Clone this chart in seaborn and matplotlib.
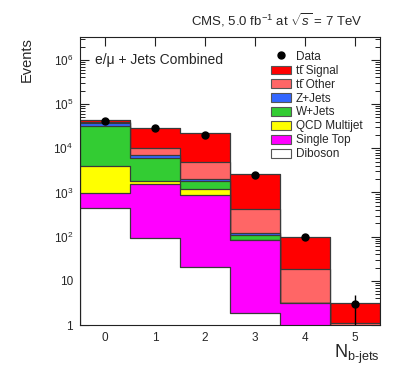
import numpy as np
import pandas as pd
import matplotlib
matplotlib.use("Agg")
import matplotlib.pyplot as plt
from matplotlib.patches import Patch, Rectangle
from matplotlib.lines import Line2D
from matplotlib.legend_handler import HandlerPatch
import seaborn as sns

# N b-jets bins and per-process event yields
nbjets = [0, 1, 2, 3, 4, 5]
processes = ["Diboson", "Single Top", "QCD Multijet", "W+Jets", "Z+Jets",
             "tt Other", "tt Signal"]
diboson = [439, 95, 20.9, 1.84, 0.3, 0.05]
single_top = [551, 1485, 856, 82, 2.9, 0.25]
qcd = [3050, 270, 323, 1.0, 0.0, 0.0]
wjets = [27160, 4290, 590, 23, 0.0, 0.0]
zjets = [5600, 920, 200, 12, 0.0, 0.0]
tt_other = [2000, 2940, 2830, 304, 15.6, 0.79]
tt_signal = [5000, 19300, 17080, 2157, 81.2, 2.11]
data_events = [41500, 28500, 19900, 2450, 98, 3]
data_err_lo = [204, 169, 141, 49, 9.9, 2.1]
data_err_hi = [204, 169, 141, 49, 9.9, 1.8]

colors = {"Diboson": "#ffffff", "Single Top": "#ff00ff", "QCD Multijet": "#ffff00",
          "W+Jets": "#33cc33", "Z+Jets": "#3366ff", "tt Other": "#ff6666",
          "tt Signal": "#ff0000"}
labels = {"Diboson": "Diboson", "Single Top": "Single Top",
          "QCD Multijet": "QCD Multijet", "W+Jets": "W+Jets", "Z+Jets": "Z+Jets",
          "tt Other": "tt\u0304 Other",
          "tt Signal": "tt\u0304 Signal"}

yields = [diboson, single_top, qcd, wjets, zjets, tt_other, tt_signal]
df = pd.DataFrame({p: y for p, y in zip(processes, yields)}, index=nbjets)
cum = df.cumsum(axis=1)  # stacked totals, bottom to top
long = cum.reset_index().melt(id_vars="index", var_name="process", value_name="cum")
long = long.rename(columns={"index": "nb"})

sns.set_style("ticks")
plt.rcParams["font.family"] = ["Liberation Sans", "DejaVu Sans"]
plt.rcParams["mathtext.fontset"] = "custom"
plt.rcParams["mathtext.rm"] = "Liberation Sans"
plt.rcParams["mathtext.it"] = "Liberation Sans:italic"
plt.rcParams["mathtext.bf"] = "Liberation Sans:bold"

fig = plt.figure(figsize=(3.99, 3.83), dpi=100)
ax = fig.add_axes([80 / 399, 1 - 325 / 383, 300 / 399, 288 / 383])

# draw cumulative layers from the top of the stack down (ROOT-like step outline)
for p in processes[::-1]:
    sub = long[long["process"] == p]
    sns.histplot(data=sub, x="nb", weights="cum", discrete=True,
                 element="step", color=colors[p], alpha=1, edgecolor="#3a3a3a",
                 linewidth=0.9, ax=ax)

ax.errorbar(nbjets, data_events, yerr=[data_err_lo, data_err_hi], fmt="o",
            color="black", ms=5, elinewidth=1, capsize=0, zorder=5)

ax.set_yscale("log")
ax.set_ylim(1, 3.3e6)
ax.set_xlim(-0.5, 5.5)
ax.set_xticks(nbjets)
ax.set_xticklabels([str(n) for n in nbjets])
ax.set_yticks([1, 10, 1e2, 1e3, 1e4, 1e5, 1e6])
ax.set_yticklabels(["1", "10", "$10^{2}$", "$10^{3}$", "$10^{4}$", "$10^{5}$", "$10^{6}$"])
ax.tick_params(axis="both", which="both", direction="in", top=True, right=True,
               labelsize=8.5, color="#222222")
ax.tick_params(axis="both", which="major", length=6.5, width=0.8, pad=5)
ax.tick_params(axis="y", which="minor", length=3.3, width=0.7)
ax.tick_params(axis="x", which="minor", length=0)
for s in ax.spines.values():
    s.set_visible(True)
    s.set_linewidth(0.8)
    s.set_color("#222222")

ax.set_xlabel("")
ax.set_ylabel("Events", loc="top", fontsize=10.5, labelpad=14)
ax.text(1.0, -0.062, r"N$_{\mathrm{b\text{-}jets}}$", transform=ax.transAxes,
        ha="right", va="top", fontsize=13)
ax.text(0.05, 0.92, "e/\u03bc + Jets Combined", transform=ax.transAxes,
        ha="left", va="center", fontsize=10)
fig.text(363 / 399, 1 - 20 / 383, r"CMS, 5.0 fb$^{-1}$ at $\sqrt{s}$ = 7 TeV",
         ha="right", va="center", fontsize=9.5)


def small_box(legend, orig_handle, xdescent, ydescent, width, height, fontsize):
    # legend patch a bit shorter than the row so rows stay evenly spaced
    return Rectangle((-xdescent, -ydescent + 0.1 * height), width, 0.78 * height)


handles = [Line2D([], [], marker="o", color="black", ls="none", ms=5)]
leg_labels = ["Data"]
for p in processes[::-1]:
    handles.append(Patch(facecolor=colors[p], edgecolor="#555555", linewidth=0.8))
    leg_labels.append(labels[p])
ax.legend(handles, leg_labels, loc="upper left", bbox_to_anchor=(0.62, 0.97),
          frameon=False, fontsize=8.5, handlelength=1.7, handleheight=1.1,
          labelspacing=0.1, handletextpad=0.45, borderaxespad=0.0,
          handler_map={Patch: HandlerPatch(patch_func=small_box)})

fig.savefig("out.png", dpi=100)
